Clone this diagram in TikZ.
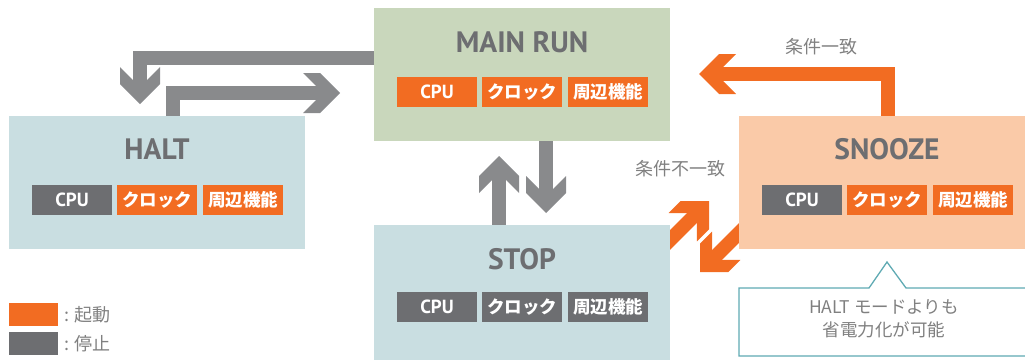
\documentclass[tikz,border=0pt]{standalone}
\usepackage{fontspec}
\setmainfont{PT Sans}
\newfontfamily\jp{Noto Sans CJK JP}
\usetikzlibrary{calc}
\definecolor{orng}{HTML}{F26C22}
\definecolor{chipgray}{HTML}{6D6E71}
\definecolor{arrowgray}{HTML}{898A8C}
\definecolor{titlegray}{HTML}{6D6E71}
\definecolor{labelgray}{HTML}{808080}
\definecolor{bluebg}{HTML}{C9DEE1}
\definecolor{greenbg}{HTML}{C9D7BC}
\definecolor{peachbg}{HTML}{FACAA8}
\definecolor{teal}{HTML}{5FAAB3}
\pgfdeclarelayer{bg}
\pgfsetlayers{bg,main}
\tikzset{
  statebox/.style={rectangle, draw=none, minimum width=296pt, minimum height=133pt, inner sep=0pt},
  title/.style={font=\bfseries\fontsize{29.5}{32}\selectfont, text=titlegray, inner sep=0pt},
  chip/.style={rectangle, minimum width=80pt, minimum height=30pt, inner sep=0pt, text=white},
  cpu/.style={chip, font=\bfseries\fontsize{19}{22}\selectfont},
  jpchip/.style={chip, font=\jp\bfseries\fontsize{17.5}{20}\selectfont},
  on/.style={fill=orng},
  off/.style={fill=chipgray},
  shaft/.style={line width=14pt, line join=miter, line cap=butt},
  chead/.pic={\fill[pic actions] (0,0) -- (-20,20) -- (-37,20) -- (-24,7) -- (-24,-7) -- (-37,-20) -- (-20,-20) -- cycle;},
  lbl/.style={font=\jp\fontsize{18}{21}\selectfont, text=labelgray, inner sep=0pt},
}
\begin{document}
\begin{tikzpicture}[x=1pt, y=-1pt]
\useasboundingbox (0,0) rectangle (1025,359);
\clip (0,0) rectangle (1025,359);

% state boxes
\node[statebox, fill=greenbg] (main) at (522,74.5) {};
\node[statebox, fill=bluebg] (halt) at (157,182.5) {};
\node[statebox, fill=bluebg, minimum height=135pt] (stop) at (522,292.5) {};
\node[statebox, fill=peachbg] (snooze) at (887,182.5) {};

% titles
\node[title] (tmain) at (522,42) {MAIN RUN};
\node[title] (thalt) at (157,149) {HALT};
\node[title] (tstop) at (522,259) {STOP};
\node[title] (tsnooze) at (887,149) {SNOOZE};

% chips
\node[cpu, on] (mcpu) at (437,92) {CPU};
\node[jpchip, on] (mclk) at (522,92) {クロック};
\node[jpchip, on] (mper) at (608,92) {周辺機能};

\node[cpu, off] (hcpu) at (72,200) {CPU};
\node[jpchip, on] (hclk) at (157,200) {クロック};
\node[jpchip, on] (hper) at (243,200) {周辺機能};

\node[cpu, off] (scpu) at (437,307) {CPU};
\node[jpchip, off] (sclk) at (522,307) {クロック};
\node[jpchip, off] (sper) at (608,307) {周辺機能};

\node[cpu, off] (zcpu) at (802,200) {CPU};
\node[jpchip, on] (zclk) at (887,200) {クロック};
\node[jpchip, on] (zper) at (973,200) {周辺機能};

% arrow tips
\coordinate (tA) at (140,104);
\coordinate (tB) at (340,93);
\coordinate (tUp) at (499,156);
\coordinate (tDn) at (546,213);
\coordinate (tO) at (699,74);
\coordinate (tUR) at (709,201);
\coordinate (tDL) at (700,272);

\begin{pgfonlayer}{bg}
  % MAIN RUN -> HALT
  \draw[shaft, arrowgray] (main.west |- 0,58) -- (140,58) -- ($(tA)+(0,-22)$);
  \pic[arrowgray, rotate=-90] at (tA) {chead};
  % HALT -> MAIN RUN
  \draw[shaft, arrowgray] (halt.north -| 173,0) -- (173,93) -- ($(tB)+(-22,0)$);
  \pic[arrowgray] at (tB) {chead};
  % STOP -> MAIN RUN
  \draw[shaft, arrowgray] (tUp |- stop.north) -- ($(tUp)+(0,22)$);
  \pic[arrowgray, rotate=90] at (tUp) {chead};
  % MAIN RUN -> STOP
  \draw[shaft, arrowgray] (tDn |- main.south) -- ($(tDn)+(0,-22)$);
  \pic[arrowgray, rotate=-90] at (tDn) {chead};
  % SNOOZE -> MAIN RUN
  \draw[shaft, orng] (snooze.north -| 888,0) -- (888,74) -- ($(tO)+(22,0)$);
  \pic[orng, rotate=180] at (tO) {chead};
  % STOP -> SNOOZE
  \draw[shaft, orng] ($(tUR)+(-60,60)$) -- ($(tUR)+(-15.6,15.6)$);
  \pic[orng, rotate=45] at (tUR) {chead};
  % SNOOZE -> STOP
  \draw[shaft, orng] ($(tDL)+(60,-60)$) -- ($(tDL)+(15.6,-15.6)$);
  \pic[orng, rotate=-135] at (tDL) {chead};
\end{pgfonlayer}

% labels
\node[lbl] (l1) at (821,47) {条件一致};
\node[lbl] (l2) at (680,169) {条件不一致};

% callout
\draw[teal, line width=1.3pt, fill=white] (1030,288) -- (906,288) -- (887,262) -- (869,288) -- (739,288) -- (739,356) -- (1030,356);
\node[lbl, align=center, font=\jp\fontsize{17.5}{23}\selectfont] (note) at (884,318.5) {HALT モードよりも\\省電力化が可能};

% legend
\node[rectangle, fill=orng, minimum width=49pt, minimum height=23pt, inner sep=0pt] (lego) at (33.5,314.5) {};
\node[rectangle, fill=chipgray, minimum width=49pt, minimum height=23pt, inner sep=0pt] (legg) at (33.5,343.5) {};
\node[lbl, anchor=west] (lt1) at (64,315) {: 起動};
\node[lbl, anchor=west] (lt2) at (64,344) {: 停止};
\end{tikzpicture}
\end{document}
